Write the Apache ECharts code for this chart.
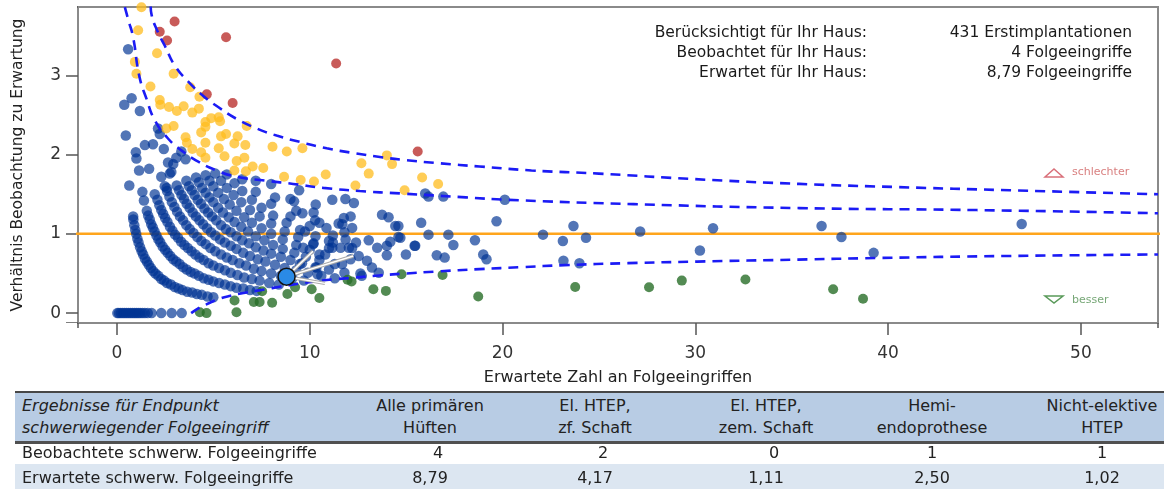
<!DOCTYPE html>
<html>
<head>
<meta charset="utf-8">
<script src="https://cdn.jsdelivr.net/npm/echarts@6/dist/echarts.min.js"></script>
<style>
  html, body { margin: 0; padding: 0; background: #fff; }
  #page { position: relative; width: 1164px; height: 489px; overflow: hidden; font-family: 'DejaVu Sans', sans-serif; color: #222; }
  #main { position: absolute; left: 0; top: 0; width: 1164px; height: 391px; }
  .band { position: absolute; left: 15px; right: 0; }
  .cell { position: absolute; font-size: 16px; line-height: 20px; height: 20px; white-space: nowrap; }
</style>
</head>
<body>
<div id="page">
  <div id="main"></div>
  <div id="tbl"></div>
</div>
<script>
// ---- data ----
var xTicks = [0, 10, 20, 30, 40, 50];
var yTicks = [0, 1, 2, 3];

// hospitals without any observed revision
var zeroRow = [[0.02,0],[0.1,0],[0.2,0],[0.3,0],[0.4,0],[0.5,0],[0.6,0],[0.7,0],[0.8,0],[0.9,0],[1.0,0],[1.1,0],[1.2,0],[1.32,0],[1.45,0],[1.6,0],[1.8,0],[2.3,0],[2.84,0],[3.36,0]];

// the arcs (1, 2, 3 ... observed revisions)
var arc1 = [[0.85,1.18],[0.9,1.11],[0.95,1.05],[1.0,1.0],[1.06,0.94],[1.12,0.89],[1.2,0.83],[1.28,0.78],[1.36,0.74],[1.45,0.69],[1.55,0.65],[1.65,0.61],[1.76,0.57],[1.88,0.53],[2.0,0.5],[2.15,0.47],[2.3,0.43],[2.45,0.41],[2.6,0.38],[2.8,0.36],[3.0,0.33],[3.2,0.31],[3.4,0.29],[3.65,0.27],[3.9,0.26],[4.15,0.24],[4.4,0.23],[4.7,0.21],[5.0,0.2]];
var arc2 = [[1.55,1.29],[1.62,1.23],[1.7,1.18],[1.78,1.12],[1.86,1.08],[1.95,1.03],[2.05,0.98],[2.15,0.93],[2.25,0.89],[2.37,0.84],[2.5,0.8],[2.63,0.76],[2.77,0.72],[2.92,0.68],[3.08,0.65],[3.25,0.62],[3.43,0.58],[3.62,0.55],[3.82,0.52],[4.03,0.5],[4.25,0.47],[4.5,0.44],[4.75,0.42],[5.0,0.4],[5.3,0.38],[5.6,0.36],[5.9,0.34],[6.2,0.32],[6.55,0.31],[6.9,0.29],[7.25,0.28]];
var arc3 = [[2.1,1.43],[2.2,1.36],[2.3,1.3],[2.4,1.25],[2.5,1.2],[2.62,1.15],[2.75,1.09],[2.88,1.04],[3.02,0.99],[3.17,0.95],[3.33,0.9],[3.5,0.86],[3.68,0.82],[3.87,0.78],[4.07,0.74],[4.28,0.7],[4.5,0.67],[4.75,0.63],[5.0,0.6],[5.3,0.57],[5.6,0.54],[5.9,0.51],[6.25,0.48],[6.6,0.45],[7.0,0.43],[7.4,0.41],[7.9,0.38],[8.4,0.36]];
var arc4 = [[2.6,1.54],[2.72,1.47],[2.85,1.4],[2.98,1.34],[3.12,1.28],[3.27,1.22],[3.43,1.17],[3.6,1.11],[3.78,1.06],[3.97,1.01],[4.17,0.96],[4.38,0.91],[4.6,0.87],[4.85,0.82],[5.1,0.78],[5.4,0.74],[5.7,0.7],[6.0,0.67],[6.35,0.63],[6.7,0.6],[7.1,0.56],[7.5,0.53],[8.0,0.5],[8.5,0.47],[9.1,0.44],[9.7,0.41]];
var arc5 = [[3.1,1.61],[3.22,1.55],[3.35,1.49],[3.48,1.44],[3.62,1.38],[3.77,1.33],[3.93,1.27],[4.1,1.22],[4.28,1.17],[4.47,1.12],[4.67,1.07],[4.88,1.02],[5.1,0.98],[5.35,0.93],[5.6,0.89],[5.9,0.85],[6.2,0.81],[6.55,0.76],[6.9,0.72],[7.3,0.68],[7.7,0.65],[8.2,0.61],[8.7,0.57],[9.3,0.54],[9.9,0.51],[10.6,0.47],[11.3,0.44]];
var arc6 = [[3.6,1.67],[3.74,1.6],[3.88,1.55],[4.03,1.49],[4.19,1.43],[4.36,1.38],[4.54,1.32],[4.73,1.27],[4.93,1.22],[5.15,1.17],[5.4,1.11],[5.65,1.06],[5.9,1.02],[6.2,0.97],[6.5,0.92],[6.85,0.88],[7.2,0.83],[7.6,0.79],[8.0,0.75],[8.5,0.71],[9.0,0.67],[9.6,0.63],[10.3,0.58],[11.0,0.55],[11.8,0.51],[12.7,0.47]];
var arc7 = [[4.1,1.71],[4.25,1.65],[4.42,1.58],[4.6,1.52],[4.8,1.46],[5.0,1.4],[5.25,1.33],[5.5,1.27],[5.8,1.21],[6.1,1.15],[6.45,1.09],[6.8,1.03],[7.2,0.97],[7.65,0.92],[8.1,0.86],[8.6,0.81],[9.2,0.76],[9.8,0.71],[10.5,0.67],[11.3,0.62]];
var arc8 = [[4.6,1.74],[4.8,1.67],[5.0,1.6],[5.25,1.52],[5.55,1.44],[5.85,1.37],[6.2,1.29],[6.6,1.21],[7.0,1.14],[7.5,1.07],[8.0,1.0],[8.6,0.93],[9.3,0.86],[10.0,0.8],[10.8,0.74]];
var arc9 = [[5.1,1.76],[5.4,1.67],[5.7,1.58],[6.05,1.49],[6.45,1.4],[6.9,1.3],[7.4,1.22],[8.0,1.13],[8.7,1.03],[9.4,0.96],[10.2,0.88],[11.0,0.82]];
var arc10 = [[5.7,1.75],[6.1,1.64],[6.5,1.54],[7.0,1.43],[7.5,1.33],[8.1,1.23],[8.8,1.14],[9.5,1.05],[10.3,0.97],[11.2,0.89],[12.2,0.82]];
var arcHigh = [[6.5,1.69],[7.2,1.53],[8.0,1.38],[9.0,1.22],[10.0,1.1],[11.2,0.98],[12.4,0.89],[7.2,1.67],[8.2,1.46],[9.3,1.29],[10.5,1.14],[11.8,1.02],[8.0,1.63],[9.0,1.44],[10.2,1.27],[11.5,1.13]];

// loose blue points
var blueScatter = [[0.58,3.33],[0.38,2.63],[0.76,2.71],[1.19,2.55],[0.46,2.24],[2.13,2.33],[2.22,2.26],[0.98,2.03],[1.45,2.12],[1.87,2.13],[2.43,2.07],[1.01,1.95],[2.65,1.9],[2.92,1.88],[3.08,1.96],[3.56,1.94],[3.34,2.04],[1.15,1.8],[1.67,1.82],[2.82,1.78],[2.3,1.72],[0.64,1.61],[1.32,1.53],[1.96,1.5],[2.48,1.6],[2.58,1.58],[2.74,1.76],[1.4,1.42],[0.84,1.22],
  [11.17,1.43],[11.85,1.44],[12.29,1.39],[11.77,1.2],[12.12,1.22],[12.2,1.075],[11.69,1.12],[13.75,1.24],[14.09,1.21],[14.44,1.1],[14.6,0.96],[14.18,0.9],[14.0,0.85],[13.5,0.825],[13.06,0.92],[12.54,0.72],[12.97,0.66],[13.23,0.575],[13.58,0.51],[14.0,0.73],[14.99,0.74],[15.47,0.85],[15.78,1.14],[15.99,1.51],[16.93,1.47],[16.16,1.47],[16.16,0.99],[17.19,0.99],[17.45,0.86],[16.59,0.73],[17.0,0.7],[10.31,1.37],[9.62,1.26],[9.19,1.41],[9.45,1.55],[11.0,0.91],[11.68,0.62],[12.12,0.68],[12.63,0.5],[10.4,0.49],[11.17,0.825],[11.86,0.93],[12.03,0.825],[10.28,1.17],[9.75,1.03],[10.18,0.87],[10.87,1.075],[11.6,0.825],[9.66,0.825],[10.5,0.74],[9.49,0.62],[10.35,0.575],
  [14.6,1.1],[14.7,0.95],[15.44,0.85],[18.57,0.92],[19.0,0.74],[19.17,0.68],[19.69,1.16],[20.12,1.43],[22.1,0.99],[23.13,0.91],[23.68,1.1],[24.33,0.95],[23.16,0.66],[23.99,0.63],[27.14,1.03],[30.24,0.79],[30.92,1.07],[36.55,1.1],[37.58,0.96],[39.25,0.76],[46.93,1.125]];

var yellowPts = [[1.27,3.86],[1.1,3.57],[2.08,3.28],[0.93,3.17],[1.01,3.02],[2.94,3.02],[1.74,2.86],[3.8,2.85],[4.28,2.73],[2.22,2.69],[2.25,2.63],[2.7,2.6],[3.11,2.55],[3.46,2.61],[3.91,2.53],[4.25,2.58],[4.59,2.41],[4.89,2.46],[5.28,2.47],[5.35,2.42],[4.59,2.35],[4.37,2.28],[6.73,2.36],[2.94,2.36],[2.56,2.33],[5.4,2.23],[5.66,2.26],[6.26,2.23],[3.56,2.22],[4.59,2.15],[3.63,2.15],[6.09,2.14],[6.66,2.12],[5.28,2.08],[8.07,2.1],[8.81,2.04],[9.62,2.08],[3.91,2.07],[4.37,2.03],[5.58,1.98],[4.59,1.96],[6.61,1.96],[6.21,1.92],[7.04,1.85],[7.59,1.83],[6.09,1.8],[6.69,1.79],[12.68,1.89],[13.06,1.76],[14.27,1.88],[14.0,1.99],[10.83,1.75],[8.67,1.72],[9.53,1.68],[10.22,1.66],[12.37,1.61],[14.92,1.55],[15.83,1.71],[16.66,1.63]];
var redPts = [[2.99,3.68],[2.22,3.55],[2.6,3.44],[5.66,3.48],[11.37,3.15],[4.66,2.76],[6.0,2.65],[15.6,2.04]];
var greenPts = [[4.3,0.01],[4.65,0],[6.2,0.01],[6.1,0.16],[7.1,0.14],[7.4,0.14],[8.05,0.13],[7.53,0.275],[8.84,0.24],[9.24,0.325],[10.1,0.3],[10.5,0.19],[11.96,0.42],[12.17,0.4],[13.3,0.3],[13.95,0.28],[14.76,0.49],[16.89,0.48],[18.74,0.21],[23.77,0.33],[27.6,0.325],[29.3,0.41],[32.6,0.425],[37.15,0.3],[38.7,0.18]];
var ownHouse = [8.8, 0.46];
var arrowEnds = [[10.17,0.78],[12.26,0.72],[10.79,0.375]];

// funnel limits and reference
var upperOuter = [[1.75,3.87],[1.8,3.76],[2.1,3.56],[2.49,3.37],[3.01,3.12],[3.7,2.92],[4.48,2.74],[5.25,2.6],[6.21,2.45],[7.25,2.33],[8.28,2.24],[9.49,2.16],[10.88,2.08],[12.26,2.02],[13.64,1.97],[15.0,1.93],[16.75,1.89],[18.8,1.85],[21.5,1.8],[25,1.76],[30,1.69],[35.4,1.63],[40.5,1.59],[46.3,1.55],[54,1.5]];
var upperInner = [[0.41,3.86],[0.59,3.7],[0.84,3.48],[1.16,2.99],[1.54,2.7],[1.97,2.43],[2.66,2.2],[3.36,2.05],[4.22,1.91],[5.17,1.8],[6.21,1.72],[7.76,1.67],[9.14,1.63],[10.7,1.58],[12.6,1.54],[14.7,1.51],[18.1,1.46],[20.2,1.43],[26.8,1.375],[35.4,1.325],[44.6,1.3],[54,1.26]];
var lowerLimit = [[3.85,0],[4.3,0.07],[4.82,0.13],[5.3,0.18],[5.9,0.22],[6.5,0.25],[7.2,0.28],[7.8,0.305],[8.5,0.335],[9.4,0.37],[10.3,0.4],[11.2,0.425],[12.2,0.445],[13.6,0.475],[15.0,0.5],[16.6,0.525],[18.8,0.555],[21,0.58],[23.2,0.605],[26.5,0.63],[30.1,0.65],[35.3,0.675],[39.4,0.695],[46,0.72],[54,0.74]];
var refLine = [[-3,1],[55,1]];

var infoLabels = ['Berücksichtigt für Ihr Haus:', 'Beobachtet für Ihr Haus:', 'Erwartet für Ihr Haus:'];
var infoValues = ['431 Erstimplantationen', '4 Folgeeingriffe', '8,79 Folgeeingriffe'];

var tableHead = [['Ergebnisse für Endpunkt', 'schwerwiegender Folgeeingriff'], ['Alle primären', 'Hüften'], ['El. HTEP,', 'zf. Schaft'], ['El. HTEP,', 'zem. Schaft'], ['Hemi-', 'endoprothese'], ['Nicht-elektive', 'HTEP']];
var rowLabels = ['Beobachtete schwerw. Folgeeingriffe', 'Erwartete schwerw. Folgeeingriffe'];
var observedRow = ['4', '2', '0', '1', '1'];
var expectedRow = ['8,79', '4,17', '1,11', '2,50', '1,02'];

// ---- table below the chart ----
var tbl = document.getElementById('tbl');
function band(top, h, bg) {
  var d = document.createElement('div');
  d.className = 'band';
  d.style.top = top + 'px';
  d.style.height = h + 'px';
  d.style.background = bg;
  tbl.appendChild(d);
}
function cell(text, cx, cy, leftAlign, italic) {
  var d = document.createElement('div');
  d.className = 'cell';
  d.textContent = text;
  d.style.top = (cy - 10) + 'px';
  if (leftAlign) {
    d.style.left = cx + 'px';
  } else {
    d.style.left = (cx - 120) + 'px';
    d.style.width = '240px';
    d.style.textAlign = 'center';
  }
  if (italic) d.style.fontStyle = 'italic';
  tbl.appendChild(d);
}
band(391, 2, '#474747');
band(393, 48, '#b8cce4');
band(441, 3, '#505050');
band(464, 25, '#dce6f1');

var colX = [430, 595, 766, 932, 1102];
cell(tableHead[0][0], 22, 406, true, true);
cell(tableHead[0][1], 22, 428, true, true);
for (var i = 1; i < tableHead.length; i++) {
  cell(tableHead[i][0], colX[i - 1], 406);
  cell(tableHead[i][1], colX[i - 1], 428);
}
cell(rowLabels[0], 22, 453, true);
cell(rowLabels[1], 22, 478, true);
for (var j = 0; j < observedRow.length; j++) {
  cell(observedRow[j], colX[j] + (j < 3 ? 8 : 0), 453);
  cell(expectedRow[j], colX[j], 478);
}

// ---- chart ----
var FONT = 'DejaVu Sans';
var bluePts = [].concat(zeroRow, arc1, arc2, arc3, arc4, arc5, arc6, arc7, arc8, arc9, arc10, arcHigh, blueScatter);
var arrowData = arrowEnds.map(function (e) { return { coords: [ownHouse, e] }; });

var chartDom = document.getElementById('main');
var myChart = echarts.init(chartDom);

function limitSeries(data) {
  return {
    type: 'line', data: data, smooth: true, symbol: 'none', silent: true, z: 5,
    lineStyle: { color: '#1b1bf5', width: 2.6, type: [10, 7] }
  };
}

var tickStyle = { show: true, length: 12, lineStyle: { color: '#555', width: 1.5 } };
var frameLine = { show: true, onZero: false, lineStyle: { color: '#8a8a8a', width: 2 } };

var option = {
  animation: false,
  grid: { left: 78, top: 7, width: 1080, height: 319, show: true, borderColor: '#8a8a8a', borderWidth: 2, backgroundColor: '#fff' },
  xAxis: {
    type: 'value', min: -2.02, max: 54,
    splitLine: { show: false },
    axisLine: frameLine,
    axisTick: tickStyle,
    axisLabel: { customValues: xTicks, fontSize: 17, color: '#333', margin: 22, fontFamily: FONT },
    name: 'Erwartete Zahl an Folgeeingriffen',
    nameLocation: 'middle', nameGap: 47,
    nameTextStyle: { fontSize: 16, color: '#222', fontFamily: FONT }
  },
  yAxis: {
    type: 'value', min: -0.125, max: 3.8625,
    splitLine: { show: false },
    axisLine: frameLine,
    axisTick: tickStyle,
    axisLabel: { customValues: yTicks, fontSize: 17, color: '#333', margin: 17, fontFamily: FONT },
    name: 'Verhältnis Beobachtung zu Erwartung',
    nameLocation: 'middle', nameGap: 52,
    nameTextStyle: { fontSize: 15.5, color: '#222', fontFamily: FONT }
  },
  series: [
    { type: 'line', data: refLine, symbol: 'none', silent: true, z: 1, lineStyle: { color: '#ffa51c', width: 2.5 } },
    { type: 'scatter', data: bluePts, symbolSize: 10.5, z: 2, itemStyle: { color: 'rgb(0,52,148)', opacity: 0.68 } },
    { type: 'scatter', data: yellowPts, symbolSize: 10, z: 3, itemStyle: { color: 'rgb(255,188,30)', opacity: 0.75 } },
    { type: 'scatter', data: redPts, symbolSize: 10, z: 3, itemStyle: { color: 'rgb(190,62,60)', opacity: 0.85 } },
    { type: 'scatter', data: greenPts, symbolSize: 10, z: 3, itemStyle: { color: 'rgb(40,110,40)', opacity: 0.8 } },
    limitSeries(upperOuter),
    limitSeries(upperInner),
    limitSeries(lowerLimit),
    { type: 'lines', coordinateSystem: 'cartesian2d', data: arrowData, z: 6, silent: true, lineStyle: { color: '#a9a9a9', width: 3.5, opacity: 1, curveness: 0 } },
    { type: 'lines', coordinateSystem: 'cartesian2d', data: arrowData, z: 7, silent: true, lineStyle: { color: '#ffffff', width: 1.5, opacity: 1, curveness: 0 } },
    { type: 'scatter', data: [ownHouse], symbolSize: 17, z: 8, itemStyle: { color: '#2a8ae6', borderColor: '#111', borderWidth: 1.5, opacity: 1 } }
  ],
  graphic: [
    // hide the extra ticks the axes put at the frame corners
    { type: 'rect', z: 100, shape: { x: 75, y: 328, width: 6, height: 15 }, style: { fill: '#fff' } },
    { type: 'rect', z: 100, shape: { x: 1155, y: 328, width: 6, height: 15 }, style: { fill: '#fff' } },
    { type: 'rect', z: 100, shape: { x: 60, y: 323, width: 17, height: 6 }, style: { fill: '#fff' } },
    { type: 'rect', z: 100, shape: { x: 60, y: 4, width: 17, height: 6 }, style: { fill: '#fff' } }
  ]
};

var infoY = [33, 53, 73];
for (var k = 0; k < infoLabels.length; k++) {
  option.graphic.push({ type: 'text', z: 100, style: { text: infoLabels[k], x: 867, y: infoY[k], align: 'right', verticalAlign: 'middle', fontSize: 15.5, fontFamily: FONT, fill: '#1a1a1a' } });
  option.graphic.push({ type: 'text', z: 100, style: { text: infoValues[k], x: 1132, y: infoY[k], align: 'right', verticalAlign: 'middle', fontSize: 15.5, fontFamily: FONT, fill: '#1a1a1a' } });
}
option.graphic.push(
  { type: 'polygon', z: 100, shape: { points: [[1045, 177], [1063, 177], [1054, 169]] }, style: { fill: 'none', stroke: '#d9707a', lineWidth: 1.5 } },
  { type: 'text', z: 100, style: { text: 'schlechter', x: 1072, y: 172, verticalAlign: 'middle', fontSize: 11, fontFamily: FONT, fill: '#d98080' } },
  { type: 'polygon', z: 100, shape: { points: [[1045, 296], [1063, 296], [1054, 303]] }, style: { fill: 'none', stroke: '#5a9a5a', lineWidth: 1.5 } },
  { type: 'text', z: 100, style: { text: 'besser', x: 1072, y: 300, verticalAlign: 'middle', fontSize: 11, fontFamily: FONT, fill: '#78a878' } }
);

myChart.setOption(option);
window.addEventListener('resize', function () {
  myChart.resize();
});
</script>
</body>
</html>
